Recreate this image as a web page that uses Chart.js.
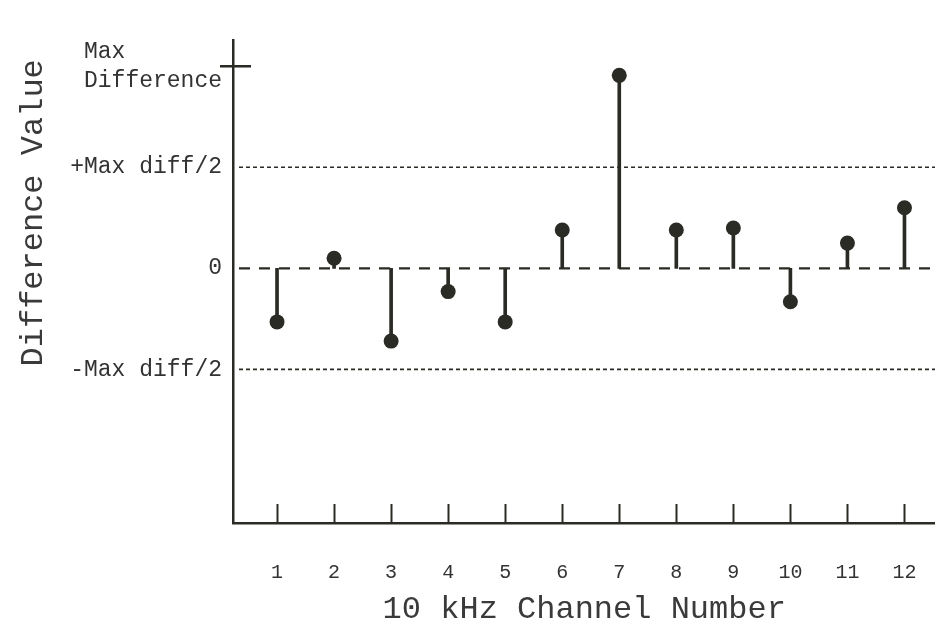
<!DOCTYPE html>
<html>
<head>
<meta charset="utf-8">
<script src="https://cdn.jsdelivr.net/npm/chart.js@4/dist/chart.umd.min.js"></script>
<style>
  html, body { margin: 0; padding: 0; background: #ffffff; overflow: hidden; width: 935px; height: 629px; }
  canvas { display: block; }
</style>
</head>
<body>
<!-- canvas is a few px wider than the window: the point-radius overflow padding falls outside -->
<canvas id="stem" width="943" height="629"></canvas>
<script>
/* stem plot: difference value per 10 kHz channel */

const CHANNELS     = [1, 2, 3, 4, 5, 6, 7, 8, 9, 10, 11, 12];
const DIFF_VALUES  = [-0.53, 0.10, -0.72, -0.23, -0.53, 0.38, 1.91, 0.38, 0.40, -0.33, 0.25, 0.60];
const Y_TICK_VALUES = [-1, 0, 1, 2];
const Y_TICK_LABELS = ['-Max diff/2', '0', '+Max diff/2', ['Max       ', 'Difference']];
const HALF_LINES   = [-1, 1];
const MAX_DIFF     = 2;

const INK  = '#2b2b25';
const FONT = "'Liberation Mono', 'DejaVu Sans Mono', monospace";

/* guide lines, axis tick marks and the max tick */
const guides = {
  id: 'guides',
  beforeDatasetsDraw(chart) {
    const { ctx, chartArea: a, scales: { y } } = chart;
    ctx.save();
    ctx.strokeStyle = INK;

    // dotted +/- half lines
    ctx.lineWidth = 1.6;
    ctx.setLineDash([4, 3]);
    HALF_LINES.forEach(v => {
      const py = y.getPixelForValue(v);
      ctx.beginPath();
      ctx.moveTo(a.left + 6, py);
      ctx.lineTo(chart.width, py);
      ctx.stroke();
    });

    // dashed zero line
    ctx.lineWidth = 2.2;
    ctx.setLineDash([11, 9]);
    const p0 = y.getPixelForValue(0);
    ctx.beginPath();
    ctx.moveTo(a.left + 6, p0);
    ctx.lineTo(chart.width, p0);
    ctx.stroke();
    ctx.restore();
  },
  afterDraw(chart) {
    const { ctx, chartArea: a, scales: { x, y } } = chart;
    ctx.save();
    ctx.strokeStyle = INK;
    ctx.lineWidth = 2;
    CHANNELS.forEach(c => {
      const px = Math.round(x.getPixelForValue(c)) + 0.5;
      ctx.beginPath();
      ctx.moveTo(px, a.bottom);
      ctx.lineTo(px, a.bottom - 19);
      ctx.stroke();
    });
    const pm = y.getPixelForValue(MAX_DIFF);
    ctx.lineWidth = 2.5;
    ctx.beginPath();
    ctx.moveTo(a.left - 13, pm);
    ctx.lineTo(a.left + 18, pm);
    ctx.stroke();
    ctx.restore();
  },
};

new Chart(document.getElementById('stem'), {
  type: 'bar',
  data: {
    datasets: [
      {
        type: 'line',
        data: CHANNELS.map((c, i) => ({ x: c, y: DIFF_VALUES[i] })),
        showLine: false,
        pointRadius: 7.5,
        pointBackgroundColor: INK,
        pointBorderWidth: 0,
        order: 0,
      },
      {
        type: 'bar',
        data: CHANNELS.map((c, i) => ({ x: c, y: DIFF_VALUES[i] })),
        backgroundColor: INK,
        barThickness: 3,
        order: 1,
      },
    ],
  },
  options: {
    responsive: false,
    animation: false,
    layout: { padding: { top: 40, right: 0, left: 0, bottom: 0 } },
    plugins: {
      legend: { display: false },
      tooltip: { enabled: false },
    },
    scales: {
      x: {
        type: 'linear',
        offset: false,
        min: 0.228,
        max: 12.544,
        afterBuildTicks: s => { s.ticks = CHANNELS.map(v => ({ value: v })); },
        afterFit: s => { s.height = 106; s.paddingLeft = 0; s.paddingRight = 0; },
        grid: { display: false, drawTicks: false, offset: false },
        border: { display: true, color: INK, width: 2.5 },
        ticks: {
          color: '#333',
          padding: 38,
          font: { family: FONT, size: 20 },
          maxRotation: 0,
          autoSkip: false,
        },
        title: {
          display: true,
          text: '10 kHz Channel Number',
          color: '#3a3a3a',
          font: { family: FONT, size: 32 },
          padding: { top: 0, bottom: 0 },
        },
      },
      y: {
        min: -2.52,
        max: 2.26,
        afterBuildTicks: s => { s.ticks = Y_TICK_VALUES.map(v => ({ value: v })); },
        afterFit: s => { s.width = 233; s.paddingTop = 0; s.paddingBottom = 0; },
        grid: { display: false, drawTicks: false },
        border: { display: true, color: INK, width: 2.5 },
        ticks: {
          color: '#333',
          padding: 11,
          autoSkip: false,
          font: { family: FONT, size: 23, lineHeight: 1.25 },
          callback: (v, i) => Y_TICK_LABELS[i],
        },
        title: {
          display: true,
          text: 'Difference Value ',
          align: 'end',
          color: '#3a3a3a',
          font: { family: FONT, size: 32 },
          padding: { top: 14, bottom: 0 },
        },
      },
    },
  },
  plugins: [guides],
});
</script>
</body>
</html>
